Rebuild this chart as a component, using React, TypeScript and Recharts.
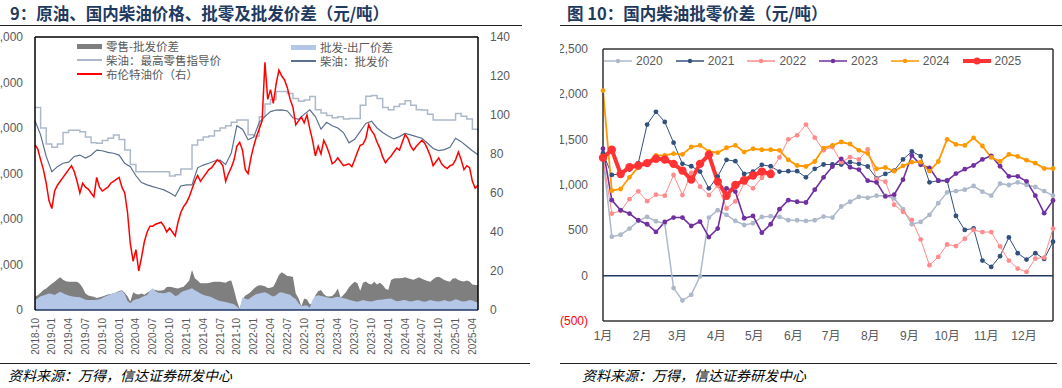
import React from "react";
import {
    Area,
    ComposedChart,
    Line,
    LineChart,
    ReferenceLine,
    XAxis,
    YAxis,
} from "recharts";

// ---------- 图9：半月采样 (2018-10 起，每 0.5 个月一个点) ----------
const BRENT = [
    84.6, 82.5, 77, 72, 65, 56, 52, 61, 64, 66,
    68, 70, 72, 74, 71, 66, 60, 65, 63, 62,
    60, 58, 68, 63, 61, 62, 63, 65, 66, 67,
    68, 63, 60, 50, 34, 25, 31, 20, 27, 35,
    40, 43, 43, 44, 44.5, 45, 43, 40, 42, 40,
    38, 45, 50, 53, 55, 58, 62, 66, 69, 66,
    68, 70, 72, 73, 75, 77, 76, 74, 66, 70,
    73, 77, 84, 86, 82, 72, 70, 78, 84, 89,
    93, 97, 127, 108, 113, 106, 116, 123, 120, 118,
    114, 108, 104, 95, 97, 99, 96, 100, 93, 87,
    79, 84, 80, 87, 84, 80, 75, 76, 78, 76,
    74, 74.5, 75, 73.5, 77, 81, 84.5, 85, 88, 95,
    92, 90, 86, 83, 78.5, 75.5, 77.5, 79, 81, 83,
    82, 86, 90, 88, 84, 82, 84, 85.5, 87, 85.5,
    82.5, 79, 74, 76, 78, 75, 73.5, 72.5, 74, 74.5,
    77, 81, 77, 72, 74, 73, 66, 62.5, 64,
];

const RETAIL_SPREAD = [
    590, 650, 760, 880, 950, 1060, 1150, 1240, 1350, 1436,
    1330, 1260, 1245, 1245, 1245, 1245, 1150, 980, 720, 640,
    600, 580, 530, 560, 590, 640, 680, 700, 730, 780,
    830, 870, 760, 600, 370, 780, 700, 680, 730, 670,
    760, 840, 900, 880, 850, 860, 880, 1010, 1020, 1000,
    970, 950, 990, 1025, 1150, 1300, 1758, 1400, 1300, 1172,
    1172, 1172, 1190, 1220, 1245, 1245, 1245, 1220, 1200, 1280,
    1300, 880, 400, 60, 460, 640, 700, 806, 930, 1030,
    1090, 1080, 1040, 970, 980, 1020, 1260, 1538, 1660, 1580,
    1500, 1480, 1450, 730, 520, 170, 510, 460, 250, 300,
    650, 820, 880, 700, 600, 590, 610, 740, 950, 540,
    660, 800, 1000, 1130, 1245, 1172, 850, 1200, 1250, 1150,
    1120, 1245, 1120, 1200, 1100, 930, 880, 1319, 1380, 1392,
    1392, 1410, 1436, 1400, 1360, 1330, 1380, 1436, 1370, 1319,
    1280, 1245, 1350, 1436, 1460, 1400, 1319, 1280, 1245, 1380,
    1400, 1319, 1270, 1250, 1300, 1250, 1120, 1099, 1099,
];

const WHOLESALE_SPREAD = [
    440, 520, 600, 640, 680, 720, 700, 660, 740, 806,
    740, 680, 640, 600, 586, 570, 557, 510, 450, 440,
    440, 440, 450, 469, 530, 590, 640, 690, 732, 770,
    806, 850, 700, 400, 293, 420, 470, 500, 560, 610,
    659, 850, 960, 820, 760, 745, 732, 770, 800, 720,
    620, 650, 770, 830, 870, 910, 952, 870, 800, 730,
    670, 630, 600, 560, 500, 440, 400, 370, 350, 320,
    290, 250, 150, 30, 560, 500, 460, 550, 640, 700,
    720, 760, 780, 720, 650, 590, 650, 760, 780, 740,
    700, 665, 560, 480, 300, 160, 200, 200, 100, 450,
    600, 650, 620, 590, 560, 530, 520, 560, 586, 550,
    515, 490, 450, 420, 390, 366, 400, 440, 410, 380,
    370, 410, 440, 450, 460, 480, 500, 510, 440, 380,
    400, 430, 440, 400, 370, 400, 430, 430, 390, 366,
    400, 440, 410, 380, 370, 400, 440, 400, 370, 420,
    469, 440, 390, 370, 400, 440, 420, 360, 322,
];

// 月度 (2018-10 ... 2025-05)
const RETAIL = [
    8900, 8000, 7300, 7150, 7300, 7800, 7900, 7900, 7840, 7600,
    7350, 7330, 7450, 7550, 7690, 7500, 7030, 6400, 6080, 6080,
    6080, 6080, 6080, 6080, 5890, 5950, 6200, 6200, 7250, 7470,
    7600, 7650, 7880, 8000, 8100, 8250, 8350, 8350, 7700, 7650,
    8500, 9050, 9250, 9600, 9600, 9520, 9300, 9180, 9230, 9380,
    8800, 8660, 8550, 8450, 8500, 8400, 8420, 8420, 9000, 9400,
    9430, 9300, 8900, 8800, 8950, 9050, 9200, 9000, 8800, 8790,
    8600, 8350, 8350, 8350, 8350, 8640, 8520, 8400, 7950, 7900,
];

const WHOLESALE = [
    8320, 7700, 6750, 6080, 6300, 6450, 6500, 6750, 6810, 6680,
    6800, 7030, 7000, 6930, 6890, 6810, 6450, 6300, 5900, 5600,
    5500, 5420, 5350, 5280, 5150, 5000, 5450, 5500, 5500, 6250,
    6370, 6450, 6550, 6590, 6400, 6900, 8100, 7950, 7480, 7600,
    8250, 8500, 8720, 8790, 8800, 8750, 8450, 8380, 8600, 8800,
    8500, 7950, 8250, 8100, 8000, 7800, 7350, 7500, 7850, 8200,
    8300, 8000, 7800, 7650, 7520, 7620, 7760, 7700, 7620, 7550,
    7330, 7100, 7010, 7050, 7150, 7550, 7400, 7200, 7000, 6820,
];

const FIG9_START_YEAR = 2018;
const FIG9_START_MONTH = 10;
const QUARTER_TICKS = Array.from({ length: 27 }, (_, k) => k * 3);
const LEFT_TICKS = [0, 2000, 4000, 6000, 8000, 10000, 12000];
const RIGHT_TICKS = [0, 20, 40, 60, 80, 100, 120, 140];

// ---------- 图10：周度批零价差 ----------
const Y2020 = [
    1300, 430, 452, 519, 604, 648, 600, 575, -137, -274, -211, -7, 641,
    722, 670, 604, 559, 578, 648, 656, 648, 611, 611, 604, 611, 652,
    641, 763, 815, 870, 859, 882, 882, 852, 733, 567, 593, 670, 800,
    919, 933, 948, 989, 926, 882, 1015, 1000, 1030, 1000, 978, 933, 882,
];
const Y2021 = [
    1350, 1111, 1122, 1170, 1241, 1667, 1807, 1696, 1467, 1233, 1207, 1148, 963,
    1093, 1278, 1263, 1122, 1148, 1222, 1207, 1148, 1152, 1152, 1085, 1178, 1226,
    1226, 1226, 1252, 1233, 1204, 1074, 1122, 1159, 1282, 1370, 1319, 1030, 1048,
    1048, 659, 504, 522, 167, 96, 215, 422, 248, 178, 248, 185, 374,
];
const Y2022 = [
    1300, 685, 715, 844, 930, 822, 893, 882, 1111, 889, 1133, 982, 889,
    993, 741, 819, 1022, 963, 1080, 1150, 1304, 1504, 1548, 1667, 1522, 1382,
    1419, 1252, 1307, 1282, 1393, 1067, 1037, 782, 704, 615, 400, 115, 207,
    344, 326, 407, 504, 481, 481, 322, 167, 78, 41, 189, 200, 519,
];
const Y2023 = [
    1400, 833, 722, 685, 611, 567, 482, 593, 641, 641, 548, 596, 426,
    519, 963, 926, 633, 659, 474, 567, 733, 833, 815, 807, 948, 1085,
    1204, 1289, 1196, 1170, 1048, 1030, 874, 893, 1059, 1326, 1222, 1189, 1048,
    1048, 1126, 1174, 1215, 1282, 1322, 1207, 1096, 1096, 1041, 882, 689, 830,
];
const Y2024 = [
    2041, 937, 956, 1085, 1196, 1252, 1326, 1326, 1345, 1337, 1419, 1437, 1370,
    1356, 1411, 1437, 1363, 1400, 1389, 1389, 1382, 1278, 1215, 1204, 1259, 1407,
    1437, 1474, 1452, 1382, 1348, 1178, 1193, 1152, 1211, 1252, 1252, 1152, 1259,
    1504, 1448, 1437, 1519, 1430, 1304, 1259, 1337, 1315, 1274, 1241, 1182, 1182,
];
const Y2025 = [
    1300, 1389, 1122, 1196, 1215, 1241, 1289, 1282, 1233, 1159, 1059, 1233, 1333,
    1037, 882, 1000, 1052, 1104, 1148, 1122,
];

const MONTH_LABELS = ["1月", "2月", "3月", "4月", "5月", "6月", "7月", "8月", "9月", "10月", "11月", "12月"];
const MONTH_START_DAY = [0, 31, 59, 90, 120, 151, 181, 212, 243, 273, 304, 334];
const SPREAD_TICKS = [-500, 0, 500, 1000, 1500, 2000, 2500];

const SERIES10 = [
    { key: "y2020", name: "2020", values: Y2020, color: "#adb9ca", width: 1.5, r: 2.4 },
    { key: "y2021", name: "2021", values: Y2021, color: "#34507e", width: 1, r: 2.4 },
    { key: "y2022", name: "2022", values: Y2022, color: "#ff8b8b", width: 1, r: 2.4 },
    { key: "y2023", name: "2023", values: Y2023, color: "#7030a0", width: 1.6, r: 2.4 },
    { key: "y2024", name: "2024", values: Y2024, color: "#ff9900", width: 1.8, r: 2.4 },
    { key: "y2025", name: "2025", values: Y2025, color: "#ff3333", width: 4, r: 4.2 },
];

const CJK = '"Noto Sans CJK SC", sans-serif';
const NUM = '"Liberation Sans", "Noto Sans CJK SC", sans-serif';
const GREY_TEXT = "#595959";

function monthLabel(m: number) {
    const idx = FIG9_START_MONTH - 1 + m;
    const year = FIG9_START_YEAR + Math.floor(idx / 12);
    const month = (idx % 12) + 1;
    return `${year}-${String(month).padStart(2, "0")}`;
}

const fig9Data = BRENT.map((brent, k) => ({
    t: k / 2,
    brent,
    retailSpread: RETAIL_SPREAD[k],
    wholesaleSpread: WHOLESALE_SPREAD[k],
    retail: k % 2 === 0 ? RETAIL[k / 2] : null,
    wholesale: k % 2 === 0 ? WHOLESALE[k / 2] : null,
}));

const monthTicks = MONTH_START_DAY.map((d) => d / 7);

const fig10Data = Y2020.map((_, i) => {
    const row: Record<string, number | null> = { w: i };
    SERIES10.forEach((s) => {
        row[s.key] = i < s.values.length ? s.values[i] : null;
    });
    return row;
});

function RotatedTick({ x, y, payload }: any) {
    return (
        <text
            transform={`translate(${x},${y}) rotate(-90)`}
            textAnchor="end"
            dominantBaseline="central"
            fontSize={10}
            fontFamily={NUM}
            fill={GREY_TEXT}
        >
            {monthLabel(payload.value)}
        </text>
    );
}

function SpreadTick({ x, y, payload }: any) {
    const v = payload.value as number;
    return (
        <text
            x={x}
            y={y}
            textAnchor="end"
            dominantBaseline="central"
            fontSize={12}
            fontFamily={NUM}
            fill={v < 0 ? "#ff0000" : GREY_TEXT}
        >
            {v < 0 ? `(${Math.abs(v)})` : v.toLocaleString("en-US")}
        </text>
    );
}

function Fig9Legend() {
    const item = (top: number, left: number, icon: React.ReactNode, label: string) => (
        <div
            style={{
                position: "absolute",
                top,
                left,
                display: "flex",
                alignItems: "center",
                fontSize: 11.5,
                color: GREY_TEXT,
                fontFamily: CJK,
                whiteSpace: "nowrap",
                lineHeight: "14px",
            }}
        >
            <div style={{ width: 25, marginRight: 4, display: "flex", alignItems: "center" }}>{icon}</div>
            {label}
        </div>
    );
    const rect = (color: string) => <div style={{ width: 25, height: 5, background: color }} />;
    const line = (color: string, h: number) => <div style={{ width: 25, height: h, background: color }} />;
    return (
        <>
            {item(39, 77, rect("#7f7f7f"), "零售-批发价差")}
            {item(53, 77, line("#adb9ca", 2), "柴油：最高零售指导价")}
            {item(67, 77, line("#ff0000", 2), "布伦特油价（右）")}
            {item(40, 291, rect("#b4c7e7"), "批发-出厂价差")}
            {item(54, 291, line("#5b6f8f", 1.2), "柴油：批发价")}
        </>
    );
}

function Fig10Legend() {
    return (
        <div
            style={{
                position: "absolute",
                top: 53,
                left: 604,
                display: "flex",
                gap: 13,
                fontSize: 12,
                fontFamily: NUM,
                color: GREY_TEXT,
                lineHeight: "16px",
            }}
        >
            {SERIES10.map((s) => (
                <div key={s.key} style={{ display: "flex", alignItems: "center", gap: 4 }}>
                    <svg width={28} height={10}>
                        <line x1={0} y1={5} x2={28} y2={5} stroke={s.color} strokeWidth={s.key === "y2025" ? 4 : 1.5} />
                        <circle cx={14} cy={5} r={s.key === "y2025" ? 3.5 : 2.2} fill={s.color} />
                    </svg>
                    {s.name}
                </div>
            ))}
        </div>
    );
}

const titleStyle: React.CSSProperties = {
    position: "absolute",
    top: 3,
    fontFamily: CJK,
    fontWeight: 700,
    fontSize: 16.5,
    color: "#1f3a5f",
    whiteSpace: "nowrap",
    lineHeight: "20px",
};

const footStyle: React.CSSProperties = {
    position: "absolute",
    top: 366,
    fontFamily: CJK,
    fontStyle: "italic",
    fontSize: 14,
    color: "#000",
    whiteSpace: "nowrap",
    lineHeight: "18px",
};

export default function App() {
    return (
        <div
            style={{
                position: "absolute",
                left: 0,
                top: 0,
                width: 1062,
                height: 388,
                background: "#fff",
                overflow: "hidden",
            }}
        >
            {/* 图9 */}
            <div style={{ ...titleStyle, left: 10 }}>9：原油、国内柴油价格、批零及批发价差（元/吨）</div>
            <div style={{ position: "absolute", left: 0, top: 25, width: 522, borderTop: "1.5px solid #222" }} />
            <div style={{ position: "absolute", left: 0, top: 0 }}>
                <ComposedChart
                    width={530}
                    height={362}
                    data={fig9Data}
                    margin={{ top: 37, right: 0, bottom: 0, left: 0 }}
                >
                    <XAxis
                        dataKey="t"
                        type="number"
                        domain={[0, 79]}
                        ticks={QUARTER_TICKS}
                        interval={0}
                        tick={<RotatedTick />}
                        tickLine={false}
                        tickSize={0}
                        tickMargin={8}
                        height={52}
                        axisLine={{ stroke: "#1f3864", strokeWidth: 1.5 }}
                    />
                    <YAxis
                        yAxisId="left"
                        domain={[0, 12000]}
                        ticks={LEFT_TICKS}
                        width={35}
                        tickLine={false}
                        tickSize={0}
                        tickMargin={12}
                        tickFormatter={(v: number) => v.toLocaleString("en-US")}
                        tick={{ fontSize: 12, fill: GREY_TEXT, fontFamily: NUM }}
                        axisLine={{ stroke: "#000", strokeWidth: 1.5 }}
                    />
                    <YAxis
                        yAxisId="right"
                        orientation="right"
                        domain={[0, 140]}
                        ticks={RIGHT_TICKS}
                        width={52}
                        tickLine={false}
                        tickSize={0}
                        tickMargin={12}
                        tick={{ fontSize: 12, fill: GREY_TEXT, fontFamily: NUM, textAnchor: "start" }}
                        axisLine={{ stroke: "#000", strokeWidth: 1.5 }}
                    />
                    <ReferenceLine yAxisId="left" y={12000} stroke="#000" strokeWidth={1.5} />
                    <Area
                        yAxisId="left"
                        dataKey="retailSpread"
                        type="linear"
                        fill="#7f7f7f"
                        fillOpacity={1}
                        stroke="none"
                        isAnimationActive={false}
                    />
                    <Area
                        yAxisId="left"
                        dataKey="wholesaleSpread"
                        type="linear"
                        fill="#b4c7e7"
                        fillOpacity={1}
                        stroke="none"
                        isAnimationActive={false}
                    />
                    <Line
                        yAxisId="left"
                        dataKey="retail"
                        type="stepAfter"
                        connectNulls
                        stroke="#adb9ca"
                        strokeWidth={1.5}
                        dot={false}
                        activeDot={false}
                        isAnimationActive={false}
                    />
                    <Line
                        yAxisId="left"
                        dataKey="wholesale"
                        type="linear"
                        connectNulls
                        stroke="#5b6f8f"
                        strokeWidth={1.2}
                        dot={false}
                        activeDot={false}
                        isAnimationActive={false}
                    />
                    <Line
                        yAxisId="right"
                        dataKey="brent"
                        type="linear"
                        stroke="#ff0000"
                        strokeWidth={1.5}
                        dot={false}
                        activeDot={false}
                        isAnimationActive={false}
                    />
                </ComposedChart>
            </div>
            <Fig9Legend />
            <div style={{ position: "absolute", left: 0, top: 363, width: 530, borderTop: "1.5px solid #222" }} />
            <div style={{ ...footStyle, left: 8 }}>资料来源：万得，信达证券研发中心</div>

            {/* 图10 */}
            <div style={{ ...titleStyle, left: 567 }}>图 10：国内柴油批零价差（元/吨）</div>
            <div style={{ position: "absolute", left: 560, top: 25, width: 502, borderTop: "1.5px solid #222" }} />
            <div style={{ position: "absolute", left: 560, top: 0 }}>
                <LineChart
                    width={502}
                    height={362}
                    data={fig10Data}
                    margin={{ top: 49, right: 9, bottom: 0, left: 0 }}
                >
                    <XAxis
                        dataKey="w"
                        type="number"
                        domain={[0, 51]}
                        ticks={monthTicks}
                        interval={0}
                        tickFormatter={(v: number) =>
                            MONTH_LABELS[monthTicks.findIndex((m) => Math.abs(m - v) < 1e-6)]
                        }
                        tickLine={false}
                        tickSize={0}
                        tickMargin={10}
                        height={41}
                        tick={{ fontSize: 12, fill: GREY_TEXT, fontFamily: NUM }}
                        axisLine={{ stroke: "#333", strokeWidth: 1.5 }}
                    />
                    <YAxis
                        domain={[-500, 2500]}
                        ticks={SPREAD_TICKS}
                        width={43}
                        tickLine={false}
                        tickSize={0}
                        tickMargin={15}
                        tick={<SpreadTick />}
                        axisLine={{ stroke: "#333", strokeWidth: 1.5 }}
                    />
                    <ReferenceLine y={2500} stroke="#333" strokeWidth={1.5} />
                    <ReferenceLine x={51} stroke="#333" strokeWidth={1.5} />
                    <ReferenceLine y={0} stroke="#1f3864" strokeWidth={1.5} />
                    {SERIES10.map((s) => (
                        <Line
                            key={s.key}
                            dataKey={s.key}
                            name={s.name}
                            type="linear"
                            stroke={s.color}
                            strokeWidth={s.width}
                            dot={{ r: s.r, fill: s.color, stroke: s.color, strokeWidth: 0 }}
                            activeDot={false}
                            isAnimationActive={false}
                        />
                    ))}
                </LineChart>
            </div>
            <Fig10Legend />
            <div style={{ position: "absolute", left: 560, top: 363, width: 497, borderTop: "1.5px solid #222" }} />
            <div style={{ ...footStyle, left: 582 }}>资料来源：万得，信达证券研发中心</div>
        </div>
    );
}
